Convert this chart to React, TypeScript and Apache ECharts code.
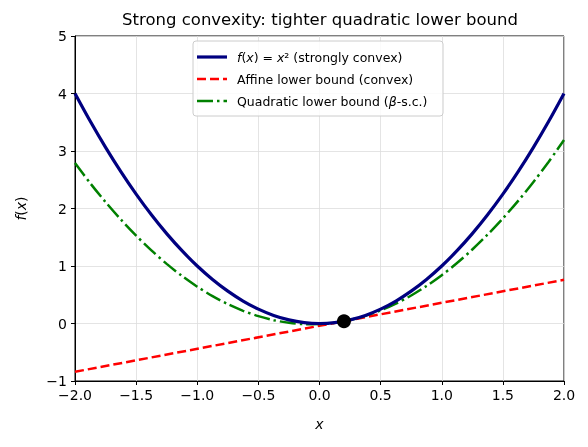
import React, { useEffect, useRef } from 'react';
import * as echarts from 'echarts';

// sample points (x, y)
const xs = [
  -2, -1.875, -1.75, -1.625, -1.5, -1.375, -1.25, -1.125, -1, -0.875, -0.75, -0.625, -0.5, -0.375, -0.25, -0.125,
  0, 0.125, 0.25, 0.375, 0.5, 0.625, 0.75, 0.875, 1, 1.125, 1.25, 1.375, 1.5, 1.625, 1.75, 1.875, 2
];
const fValues = [
  4, 3.516, 3.063, 2.641, 2.25, 1.891, 1.563, 1.266, 1, 0.766, 0.563, 0.391, 0.25, 0.141, 0.063, 0.016,
  0, 0.016, 0.063, 0.141, 0.25, 0.391, 0.563, 0.766, 1, 1.266, 1.563, 1.891, 2.25, 2.641, 3.063, 3.516, 4
];
const quadValues = [
  2.79, 2.439, 2.112, 1.808, 1.528, 1.271, 1.037, 0.827, 0.64, 0.477, 0.337, 0.221, 0.128, 0.058, 0.012, -0.011,
  -0.01, 0.014, 0.062, 0.133, 0.228, 0.346, 0.487, 0.652, 0.84, 1.052, 1.287, 1.546, 1.828, 2.133, 2.462, 2.814, 3.19
];
const affineX = [-2, 2];
const affineValues = [-0.84, 0.76];
const anchorPoint = [0.2, 0.04];

const seriesNames = ['f(x) = x² (strongly convex)', 'Affine lower bound (convex)', 'Quadratic lower bound (β-s.c.)'];
const legendLabels = [
  '{i|f}({i|x}) = {i|x}² (strongly convex)',
  'Affine lower bound (convex)',
  'Quadratic lower bound ({i|β}-s.c.)'
];

const FONT = 'DejaVu Sans';
const minus = (v: number, d: number) => v.toFixed(d).replace('-', '\u2212');

const App: React.FC = () => {
  const chartRef = useRef<HTMLDivElement>(null);

  useEffect(() => {
    if (!chartRef.current) return;
    const chart = echarts.init(chartRef.current, null, { renderer: 'svg' });

    const legendRows = [57, 79, 101];
    const legendLines = [
      { stroke: '#000080', lineWidth: 3.2 },
      { stroke: '#ff0000', lineWidth: 2.5, lineDash: [9, 4] },
      { stroke: '#008000', lineWidth: 2.5, lineDash: [16, 4, 2.5, 4] }
    ];
    const richItalic = { i: { fontStyle: 'italic', fontFamily: FONT, fontSize: 12.5 } };

    const option: echarts.EChartsOption = {
      animation: false,
      title: {
        text: 'Strong convexity: tighter quadratic lower bound',
        left: 315,
        top: 6,
        textAlign: 'center',
        textStyle: { fontFamily: FONT, fontSize: 16.5, fontWeight: 'normal', color: '#000' }
      },
      grid: {
        left: 75,
        right: 24,
        top: 36,
        bottom: 66,
        show: true,
        borderColor: '#000',
        borderWidth: 1,
        backgroundColor: 'transparent'
      },
      xAxis: {
        type: 'value',
        min: -2,
        max: 2,
        interval: 0.5,
        name: 'x',
        nameLocation: 'middle',
        nameGap: 36,
        nameTextStyle: { fontFamily: FONT, fontSize: 14, fontStyle: 'italic', color: '#000' },
        axisLine: { show: true, onZero: false, lineStyle: { color: '#000', width: 1 } },
        axisTick: { show: true, inside: false, length: 4, lineStyle: { color: '#000' } },
        axisLabel: {
          fontFamily: FONT,
          fontSize: 14,
          color: '#000',
          margin: 7,
          formatter: (v: number) => minus(v, 1)
        },
        splitLine: { show: true, lineStyle: { color: '#dddddd', width: 0.8 } }
      },
      yAxis: {
        type: 'value',
        min: -1,
        max: 5,
        interval: 1,
        name: '{i|f}({i|x})',
        nameLocation: 'middle',
        nameGap: 47,
        nameRotate: 90,
        nameTextStyle: {
          fontFamily: FONT,
          fontSize: 14,
          color: '#000',
          rich: { i: { fontStyle: 'italic', fontFamily: FONT, fontSize: 14, color: '#000' } }
        },
        axisLine: { show: true, onZero: false, lineStyle: { color: '#000', width: 1 } },
        axisTick: { show: true, inside: false, length: 4, lineStyle: { color: '#000' } },
        axisLabel: {
          fontFamily: FONT,
          fontSize: 14,
          color: '#000',
          margin: 8,
          formatter: (v: number) => minus(v, 0)
        },
        splitLine: { show: true, lineStyle: { color: '#dddddd', width: 0.8 } }
      },
      series: [
        {
          name: seriesNames[0],
          type: 'line',
          smooth: 0.3,
          showSymbol: false,
          data: xs.map((x, i) => [x, fValues[i]]),
          lineStyle: { color: '#000080', width: 3.2 },
          z: 3
        },
        {
          name: seriesNames[1],
          type: 'line',
          showSymbol: false,
          data: affineX.map((x, i) => [x, affineValues[i]]),
          lineStyle: { color: '#ff0000', width: 2.5, type: [9, 4] },
          z: 2
        },
        {
          name: seriesNames[2],
          type: 'line',
          smooth: 0.3,
          showSymbol: false,
          data: xs.map((x, i) => [x, quadValues[i]]),
          lineStyle: { color: '#008000', width: 2.5, type: [16, 4, 2.5, 4] },
          z: 2
        },
        {
          type: 'scatter',
          data: [anchorPoint],
          symbolSize: 14,
          itemStyle: { color: '#000', opacity: 1 },
          z: 5
        }
      ],
      graphic: [
        {
          type: 'rect',
          shape: { x: 193, y: 41, width: 250, height: 75, r: 3 },
          style: { fill: 'rgba(255,255,255,0.85)', stroke: '#cccccc', lineWidth: 1 },
          z: 10
        },
        ...legendRows.flatMap((y, i) => [
          {
            type: 'line',
            shape: { x1: 197, y1: y, x2: 227, y2: y },
            style: { ...legendLines[i] },
            z: 11
          },
          {
            type: 'text',
            x: 237,
            y,
            style: {
              text: legendLabels[i],
              fontFamily: FONT,
              fontSize: 12.5,
              fill: '#000',
              verticalAlign: 'middle',
              rich: richItalic
            },
            z: 11
          }
        ])
      ]
    };

    chart.setOption(option);
    return () => {
      chart.dispose();
    };
  }, []);

  return <div ref={chartRef} style={{ position: 'fixed', left: 0, top: 0, width: 588, height: 447 }} />;
};

export default App;
